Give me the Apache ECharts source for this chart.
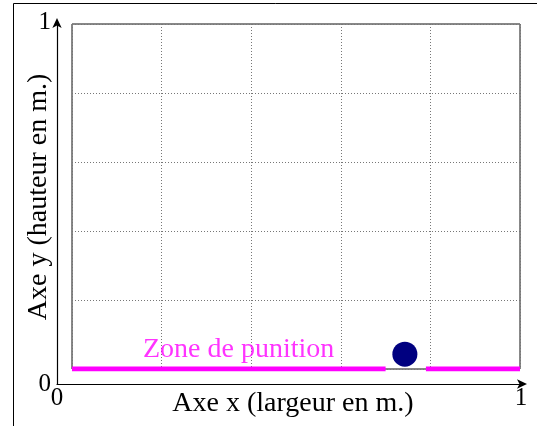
<!DOCTYPE html>
<html><head><meta charset="utf-8">
<script src="https://cdn.jsdelivr.net/npm/echarts@6/dist/echarts.min.js"></script>
<style>html,body{margin:0;padding:0;background:#fff}#c{width:537px;height:426px}</style>
</head><body><div id="c"></div>
<script>
// Data (inner playing field coordinates, 0..1)
const zoneLeft = [[0, 0], [0.70, 0]];
const zoneRight = [[0.79, 0], [1, 0]];
const ball = [[0.743, 0.043]];
const zoneLabelPos = [[0.372, 0.055]];
const zoneLabel = 'Zone de punition';
const axisTicks = ['0', '1'];
const xName = 'Axe x (largeur en m.)';
const yName = 'Axe y (hauteur en m.)';

const serif = 'Liberation Serif, Times New Roman, serif';
const chart = echarts.init(document.getElementById('c'), null, {renderer: 'canvas'});
chart.setOption({
  animation: false,
  graphic: [
    {type: 'line', shape: {x1: 13.5, y1: 3.5, x2: 537, y2: 3.5}, style: {stroke: '#000', lineWidth: 1}},
    {type: 'line', shape: {x1: 13.5, y1: 3.5, x2: 13.5, y2: 426}, style: {stroke: '#000', lineWidth: 1}}
  ],
  grid: [
    {left: 72, right: 17, top: 24, bottom: 57, show: true, borderColor: '#111', borderWidth: 1, backgroundColor: 'transparent', containLabel: false, outerBoundsMode: 'none'},
    {left: 57, right: 16, top: 22, bottom: 42, containLabel: false, outerBoundsMode: 'none'}
  ],
  xAxis: [
    {gridIndex: 0, type: 'value', min: 0, max: 1, interval: 0.2,
      axisLine: {show: false}, axisTick: {show: false}, axisLabel: {show: false},
      splitLine: {show: true, lineStyle: {color: '#777', type: [1, 2], width: 1}}},
    {gridIndex: 1, type: 'value', min: 0, max: 1, interval: 1,
      axisLine: {show: true, symbol: ['none', 'arrow'], symbolSize: [7, 10], symbolOffset: [0, 6], lineStyle: {color: '#000', width: 1.2}},
      axisTick: {show: false}, splitLine: {show: false},
      axisLabel: {show: true, color: '#000', fontFamily: serif, fontSize: 25, margin: 2,
        formatter: v => axisTicks[Math.round(v)]},
      name: xName, nameLocation: 'middle', nameGap: 6, nameMoveOverlap: false,
      nameTextStyle: {color: '#000', fontFamily: serif, fontSize: 28, padding: [0, 0, 0, 8]}}
  ],
  yAxis: [
    {gridIndex: 0, type: 'value', min: 0, max: 1, interval: 0.2,
      axisLine: {show: false}, axisTick: {show: false}, axisLabel: {show: false},
      splitLine: {show: true, lineStyle: {color: '#777', type: [1, 2], width: 1}}},
    {gridIndex: 1, type: 'value', min: 0, max: 1, interval: 1,
      axisLine: {show: true, onZero: false, symbol: ['none', 'arrow'], symbolSize: [7, 10], symbolOffset: [0, 4], lineStyle: {color: '#000', width: 1.2}},
      axisTick: {show: false}, splitLine: {show: false},
      axisLabel: {show: true, color: '#000', fontFamily: serif, fontSize: 25, margin: 6,
        formatter: v => axisTicks[Math.round(v)]},
      name: yName, nameLocation: 'middle', nameGap: 4, nameRotate: 90, nameMoveOverlap: false,
      nameTextStyle: {color: '#000', fontFamily: serif, fontSize: 28, padding: [0, 0, 0, 12]}}
  ],
  series: [
    {type: 'line', xAxisIndex: 0, yAxisIndex: 0, data: zoneLeft, symbol: 'none',
      lineStyle: {color: '#ff00ff', width: 5}, z: 5},
    {type: 'line', xAxisIndex: 0, yAxisIndex: 0, data: zoneRight, symbol: 'none',
      lineStyle: {color: '#ff00ff', width: 5}, z: 5},
    {type: 'scatter', xAxisIndex: 0, yAxisIndex: 0, data: ball, symbol: 'circle', symbolSize: 25,
      itemStyle: {color: '#000080', opacity: 1}, z: 6},
    {type: 'scatter', xAxisIndex: 0, yAxisIndex: 0, data: zoneLabelPos, symbolSize: 0,
      label: {show: true, position: 'inside', formatter: zoneLabel, color: '#ff00ff', fontFamily: serif, fontSize: 28}, z: 6}
  ]
});
</script></body></html>
